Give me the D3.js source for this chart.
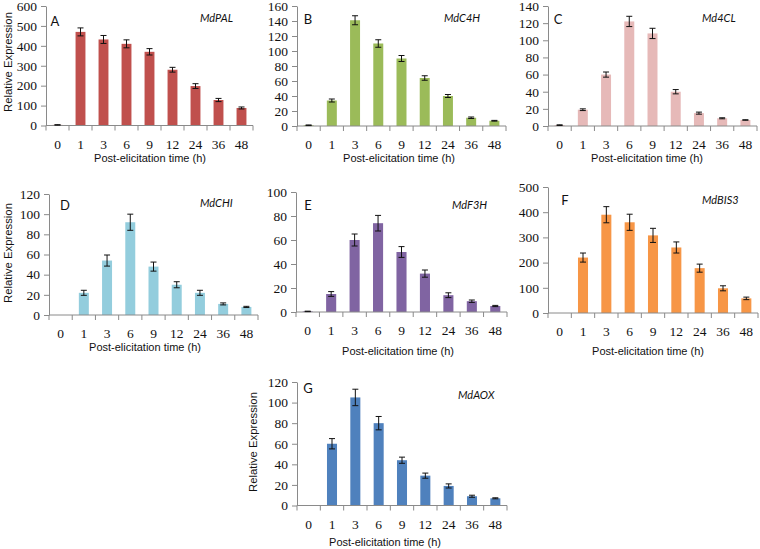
<!DOCTYPE html>
<html><head><meta charset="utf-8">
<script src="https://cdn.jsdelivr.net/npm/d3@7"></script>
<style>body{margin:0;background:#fff}svg{display:block}</style>
</head><body>
<svg id="chart" width="760" height="549"></svg>
<script>
// ---- data ----
const categories = ["0","1","3","6","9","12","24","36","48"];
const genes = ["MdPAL","MdC4H","Md4CL","MdCHI","MdF3H","MdBIS3","MdAOX"];
const panelLetters = ["A","B","C","D","E","F","G"];

const palValues  = [3, 470, 432, 410, 370, 280, 198, 128, 88];
const palErrors  = [1, 20, 20, 20, 16, 12, 12, 8, 5];
const c4hValues  = [1, 34, 141, 110, 90, 64, 40, 11, 7];
const c4hErrors  = [0.4, 2, 6, 5, 4, 3, 2, 1, 0.5];
const cl4Values  = [1, 19, 60, 122, 108, 40, 15, 9, 7];
const cl4Errors  = [0.4, 1, 3, 6, 6, 2.5, 1.2, 0.6, 0.3];
const chiValues  = [0, 22, 54, 92, 48, 30, 22, 11, 8];
const chiErrors  = [0, 2.5, 5.5, 8, 4.5, 3, 2.5, 1, 0.6];
const f3hValues  = [0.5, 15, 60, 74, 50, 32, 14, 9, 5];
const f3hErrors  = [0.2, 2, 5, 6.5, 4.5, 3, 2, 1, 0.5];
const bis3Values = [0, 220, 390, 360, 308, 260, 178, 98, 58];
const bis3Errors = [0, 18, 32, 32, 28, 22, 16, 10, 5];
const aoxValues  = [0, 60, 105, 80, 44, 29, 19, 9, 7];
const aoxErrors  = [0, 5, 8, 6.5, 3, 2.5, 2, 1, 0.5];

const palTicks  = [0,100,200,300,400,500,600];
const c4hTicks  = [0,20,40,60,80,100,120,140,160];
const cl4Ticks  = [0,20,40,60,80,100,120,140];
const chiTicks  = [0,20,40,60,80,100,120];
const f3hTicks  = [0,20,40,60,80,100];
const bis3Ticks = [0,100,200,300,400,500];
const aoxTicks  = [0,20,40,60,80,100,120];

const xTitle = "Post-elicitation time (h)";
const yTitle = "Relative Expression";

// ---- styling / layout ----
const colors = ["#C0504D","#9BBB59","#E6B9B8","#93CDDD","#8064A2","#F79646","#4F81BD"];
const panels = [
  {v:palValues, e:palErrors, t:palTicks,  x0:46,  x1:253, yTop:6,   y0:125.5, lx:55,  ly:21,  gx:200, gy:18,  tx:150, tOff:32, yt:[8,62]},
  {v:c4hValues, e:c4hErrors, t:c4hTicks,  x0:297, x1:506, yTop:6,   y0:126,   lx:308, ly:19,  gx:444, gy:18,  tx:399, tOff:32},
  {v:cl4Values, e:cl4Errors, t:cl4Ticks,  x0:548, x1:757, yTop:6,   y0:126,   lx:558, ly:19,  gx:702, gy:18,  tx:647, tOff:32},
  {v:chiValues, e:chiErrors, t:chiTicks,  x0:49,  x1:258, yTop:194, y0:315,   lx:65,  ly:205, gx:200, gy:203, tx:145, tOff:32, yt:[8,253]},
  {v:f3hValues, e:f3hErrors, t:f3hTicks,  x0:296, x1:507, yTop:192, y0:312,   lx:308, ly:205, gx:452, gy:205, tx:398, tOff:39},
  {v:bis3Values,e:bis3Errors,t:bis3Ticks, x0:548, x1:758, yTop:187, y0:313,   lx:565, ly:200, gx:702, gy:200, tx:648, tOff:38},
  {v:aoxValues, e:aoxErrors, t:aoxTicks,  x0:297, x1:507, yTop:382, y0:505.5, lx:308, ly:388, gx:458, gy:395, tx:385, tOff:36, yt:[253,442]}
];

const svg = d3.select("#chart");
const axisColor = "#8a8a8a";
const serif = '"Liberation Serif", "Times New Roman"';
const sans = '"Liberation Sans", Arial';
const calib = 'Lato, "Open Sans"';

panels.forEach((p, i) => {
  const g = svg.append("g");
  const x = d3.scaleBand().domain(categories).range([p.x0, p.x1]).paddingInner(0).paddingOuter(0);
  const tMax = p.t[p.t.length - 1];
  const y = d3.scaleLinear().domain([0, tMax]).range([p.y0, p.yTop]);
  const data = categories.map((c, k) => ({c, v: p.v[k], e: p.e[k]}));
  const bw = x.bandwidth() * 0.43;

  // bars
  g.selectAll("rect.bar").data(data).enter().append("rect")
    .attr("x", d => x(d.c) + (x.bandwidth() - bw) / 2)
    .attr("y", d => y(d.v))
    .attr("width", bw)
    .attr("height", d => p.y0 - y(d.v))
    .attr("fill", colors[i]);

  // y axis
  const yAxis = d3.axisLeft(y).tickValues(p.t).tickSize(5).tickPadding(4).tickSizeOuter(0);
  const ya = g.append("g").attr("transform", `translate(${p.x0},0)`).call(yAxis);
  ya.select(".domain").attr("stroke", axisColor);
  ya.selectAll(".tick line").attr("stroke", axisColor);
  ya.selectAll("text").style("font-family", serif).style("font-size", "13.5px").attr("fill", "#111");

  // x axis line with boundary ticks
  g.append("line").attr("x1", p.x0).attr("x2", p.x1).attr("y1", p.y0).attr("y2", p.y0)
    .attr("stroke", axisColor);
  const bounds = categories.map(c => x(c)).concat([p.x1]);
  g.selectAll("line.xt").data(bounds).enter().append("line")
    .attr("x1", d => d).attr("x2", d => d).attr("y1", p.y0).attr("y2", p.y0 + 5)
    .attr("stroke", axisColor);
  g.selectAll("text.xl").data(categories).enter().append("text")
    .style("font-family", serif).style("font-size", "13.5px").attr("fill", "#111")
    .attr("x", d => x(d) + x.bandwidth() / 2).attr("y", p.y0 + 23)
    .attr("text-anchor", "middle")
    .text(d => d);

  // error bars
  const eb = g.selectAll("g.eb").data(data.filter(d => d.e > 0)).enter().append("g");
  eb.append("line")
    .attr("x1", d => x(d.c) + x.bandwidth() / 2).attr("x2", d => x(d.c) + x.bandwidth() / 2)
    .attr("y1", d => y(d.v + d.e)).attr("y2", d => y(d.v - d.e))
    .attr("stroke", "#111").attr("stroke-width", 1);
  ["+", "-"].forEach(s => {
    eb.append("line")
      .attr("x1", d => x(d.c) + x.bandwidth() / 2 - 3).attr("x2", d => x(d.c) + x.bandwidth() / 2 + 3)
      .attr("y1", d => y(s === "+" ? d.v + d.e : d.v - d.e)).attr("y2", d => y(s === "+" ? d.v + d.e : d.v - d.e))
      .attr("stroke", "#111").attr("stroke-width", 1);
  });

  // x title
  g.append("text").style("font-family", sans).style("font-size", "11px").attr("fill", "#111")
    .attr("x", p.tx).attr("y", p.y0 + p.tOff + 4)
    .attr("text-anchor", "middle")
    .text(xTitle);

  // y title
  if (p.yt) {
    g.append("text").style("font-family", sans).style("font-size", "11.3px").attr("fill", "#111")
      .attr("transform", `translate(${p.yt[0] + 4},${p.yt[1]}) rotate(-90)`)
      .attr("text-anchor", "middle")
      .text(yTitle);
  }

  // panel letter
  g.append("text").style("font-family", calib).style("font-size", "13px").attr("fill", "#111")
    .attr("x", p.lx).attr("y", p.ly).attr("dy", "0.35em")
    .attr("text-anchor", "middle")
    .text(panelLetters[i]);

  // gene name
  g.append("text").style("font-family", calib).style("font-style", "italic").style("font-size", "11px").attr("fill", "#111")
    .attr("x", p.gx).attr("y", p.gy).attr("dy", "0.35em")
    .text(genes[i]);
});
</script>
</body></html>
